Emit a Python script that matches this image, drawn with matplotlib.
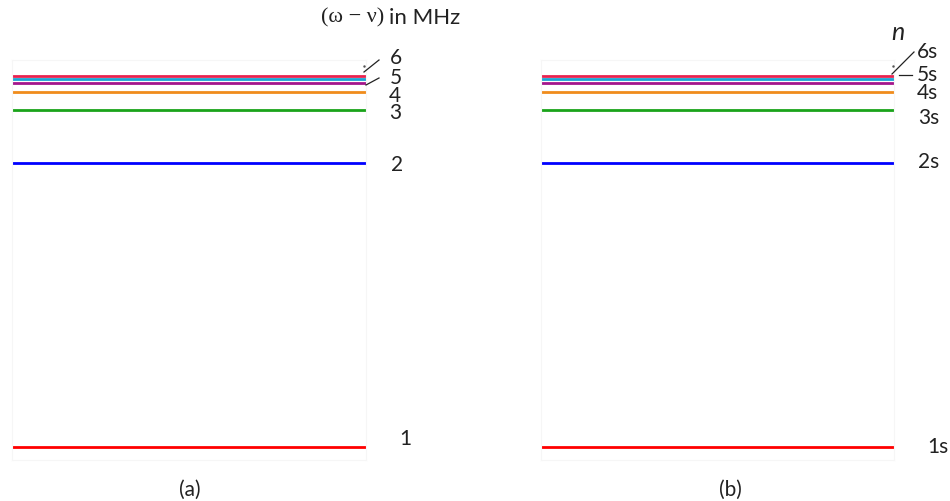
"""Hydrogen-like level diagram, two panels (a) and (b)."""
import matplotlib.pyplot as plt

# --- Data: level energies (eV), n = 1..7 ---
levels_n = [1, 2, 3, 4, 5, 6, 7]
energies = [-13.6, -3.4, -1.51, -0.85, -0.54, -0.38, -0.28]
colors = ["#ff0000", "#0000ff", "#1aa31a", "#f08c1c", "#a3168c", "#1aa3d4", "#e8224f"]

labels_a = ["1", "2", "3", "4", "5", "6"]
labels_b = ["1s", "2s", "3s", "4s", "5s", "6s"]

W, H = 950, 501
fig = plt.figure(figsize=(W / 100, H / 100), dpi=100)
plt.rcParams["font.family"] = ["Lato", "DejaVu Sans"]


def px_axes(x0, x1, y0, y1):
    # pixel box (top-left origin) -> figure axes
    return fig.add_axes([x0 / W, 1 - y1 / H, (x1 - x0) / W, (y1 - y0) / H])


def fx(x):
    return x / W


def fy(y):
    return 1 - y / H


ylim = (-14.07, 0.30)
panels = [px_axes(12, 366, 60, 460), px_axes(541, 894, 60, 460)]
for ax in panels:
    for e, c in zip(energies, colors):
        ax.axhline(e, color=c, lw=2.0)
    ax.set_ylim(*ylim)
    ax.set_xlim(0, 1)
    ax.set_xticks([])
    ax.set_yticks([])
    for s in ax.spines.values():
        s.set_color("#f6f6f6")
        s.set_linewidth(0.8)

fs = 15
txt = dict(fontsize=fs, color="#222222", va="center")

# --- Panel (a) labels ---
fig.text(fx(405), fy(439), labels_a[0], ha="center", **txt)
fig.text(fx(397), fy(165), labels_a[1], ha="center", **txt)
fig.text(fx(395), fy(113), labels_a[2], ha="center", **txt)
fig.text(fx(395), fy(96), labels_a[3], ha="center", **txt)
fig.text(fx(396), fy(78), labels_a[4], ha="center", **txt)
fig.text(fx(396), fy(58), labels_a[5], ha="center", **txt)
fig.add_artist(plt.Line2D([fx(379), fx(364)], [fy(60), fy(72)], color="#222222", lw=0.9))
fig.add_artist(plt.Line2D([fx(379), fx(366)], [fy(78), fy(85)], color="#222222", lw=0.9))
fig.add_artist(plt.Line2D([fx(364)], [fy(66)], marker=".", ms=1.5, color="#555555"))

fig.text(fx(384), fy(18), "(ω − ν)", ha="right", va="center",
         fontsize=16, family="Liberation Serif", color="#222222")
fig.text(fx(389), fy(18), "in MHz", ha="left", va="center",
         fontsize=16, color="#222222")

# --- Panel (b) labels ---
fig.text(fx(927), fy(447), labels_b[0], ha="left", **txt)
fig.text(fx(918), fy(162), labels_b[1], ha="left", **txt)
fig.text(fx(918), fy(118), labels_b[2], ha="left", **txt)
fig.text(fx(917), fy(93), labels_b[3], ha="left", **txt)
fig.text(fx(917), fy(75), labels_b[4], ha="left", **txt)
fig.text(fx(917), fy(52), labels_b[5], ha="left", **txt)
fig.add_artist(plt.Line2D([fx(914), fx(892)], [fy(52), fy(74)], color="#222222", lw=0.9))
fig.add_artist(plt.Line2D([fx(899), fx(912)], [fy(75), fy(75)], color="#222222", lw=0.9))
fig.add_artist(plt.Line2D([fx(893)], [fy(66)], marker=".", ms=1.5, color="#555555"))
fig.text(fx(898), fy(32), "n", ha="center", va="center", fontsize=18,
         style="italic", color="#222222")

# --- Panel captions ---
fig.text(fx(190), fy(490), "(a)", ha="center", **txt)
fig.text(fx(730), fy(490), "(b)", ha="center", **txt)

fig.savefig("out.png", dpi=100)
plt.close(fig)
